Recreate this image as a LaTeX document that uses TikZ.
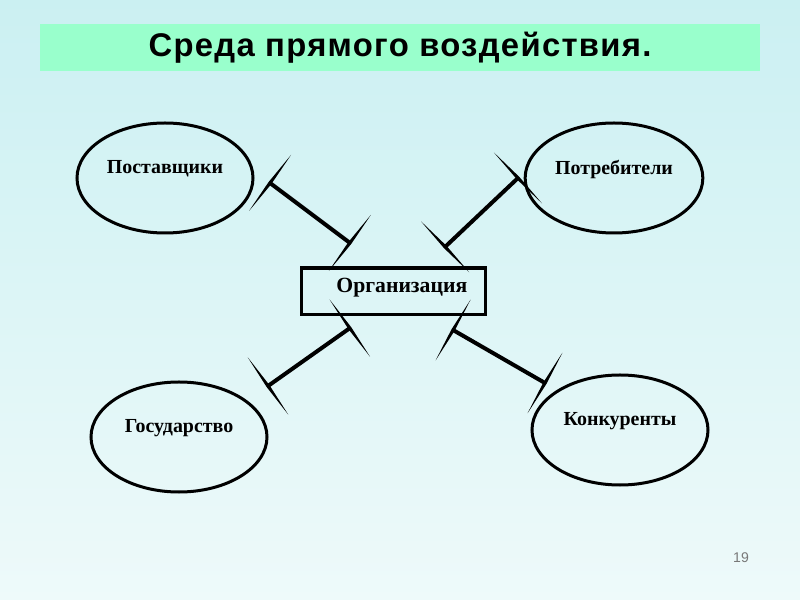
\documentclass[tikz,border=0pt]{standalone}
\usepackage{fontspec}
\setmainfont{Liberation Serif}
\setsansfont{Liberation Sans}
\newfontfamily\titlefont[LetterSpace=4]{Liberation Sans}
\usetikzlibrary{shapes.geometric, decorations.markings}

\definecolor{bgtop}{RGB}{203,240,242}
\definecolor{bgbottom}{RGB}{238,250,250}
\definecolor{titlegreen}{RGB}{153,255,204}
\definecolor{pagegray}{RGB}{120,120,120}

\tikzset{
  % tapered cross bar at both ends of a link
  cross bar/.style={
    decoration={markings,
      mark=at position 0 with {\fill (-1.7,0) -- (0,35) -- (1.7,0) -- (0,-35) -- cycle;},
      mark=at position 1 with {\fill (-1.7,0) -- (0,35) -- (1.7,0) -- (0,-35) -- cycle;}
    }
  },
  link/.style={line width=0.12cm, postaction={decorate, cross bar}},
  party/.style={draw, ellipse, line width=0.09cm, minimum width=5.28cm,
    minimum height=3.3cm, font=\bfseries\fontsize{17}{20}\selectfont,
    text depth=0.65cm},
}

\begin{document}
\begin{tikzpicture}[x=0.03cm, y=-0.03cm]
  \shade[top color=bgtop, bottom color=bgbottom] (0,0) rectangle (800,600);
  \useasboundingbox (0,0) rectangle (800,600);

  % title
  \node[fill=titlegreen, minimum width=21.6cm, minimum height=1.41cm,
    font=\titlefont\bfseries\fontsize{28}{30}\selectfont] (title) at (400,47.5)
    {Среда прямого воздействия.};

  % organisation in the middle
  \node[draw, line width=0.1cm, minimum width=5.5cm, minimum height=1.4cm,
    font=\bfseries\fontsize{18.5}{20}\selectfont, text depth=0.35cm]
    (org) at (393.5,291.5) {\hspace{0.5cm}Организация};

  % surrounding parties
  \node[party] (sup) at (165,178) {Поставщики};
  \node[party] (cons) at (614,178) {Потребители};
  \node[party] (gov) at (179,437) {Государство};
  \node[party] (comp) at (620,430) {Конкуренты};

  % link ends
  \coordinate (sup-end) at (270,183);
  \coordinate (org-sup) at (350,243);
  \coordinate (cons-end) at (518,178);
  \coordinate (org-cons) at (445,247);
  \coordinate (gov-end) at (268,386);
  \coordinate (org-gov) at (350,328);
  \coordinate (comp-end) at (545,383);
  \coordinate (org-comp) at (453,330);

  \draw[link] (sup-end) -- (org-sup);
  \draw[link] (cons-end) -- (org-cons);
  \draw[link] (gov-end) -- (org-gov);
  \draw[link] (comp-end) -- (org-comp);

  % page number
  \node[text=pagegray, font=\sffamily\fontsize{12}{14}\selectfont] (page) at (741,558) {19};
\end{tikzpicture}
\end{document}
